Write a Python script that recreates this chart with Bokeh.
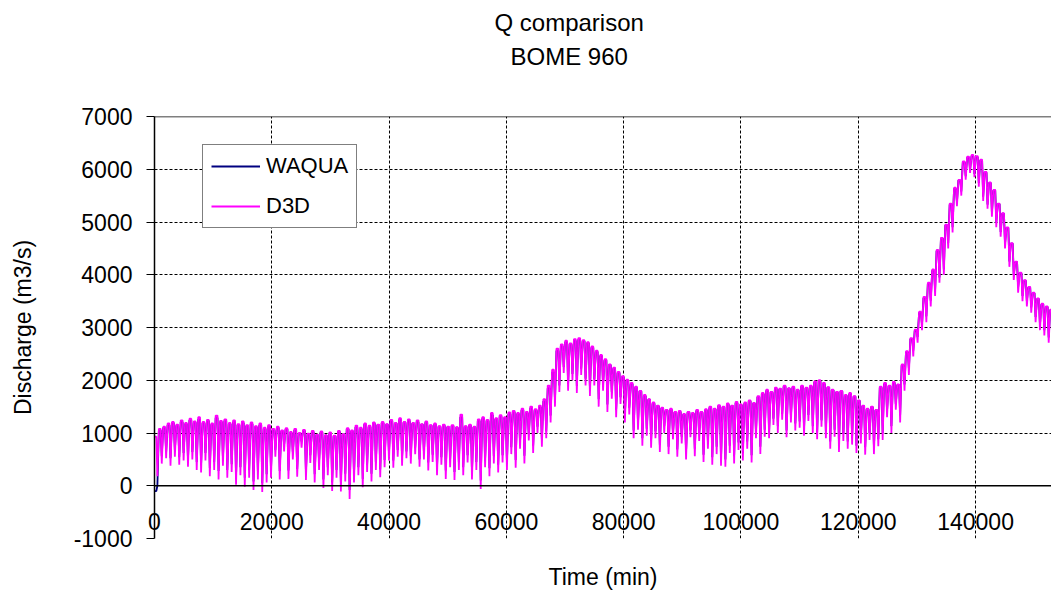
from bokeh.plotting import figure
from bokeh.models import Range1d, SingleIntervalTicker, Span, Legend, LegendItem, Title, NumeralTickFormatter
from bokeh.embed import file_html
from bokeh.resources import INLINE

FONT = "Liberation Sans"

# M2 tidal period (min); one high-flow plateau and one ebb dip per cycle
tidal_period = 745

# D3D discharge (m3/s): peak and trough of each tidal cycle
d3d_high = [
    930, 1080, 1120, 1180, 1210, 1160, 1240, 1190, 1270, 1220,
    1300, 1210, 1250, 1180, 1330, 1230, 1260, 1190, 1240, 1170,
    1220, 1150, 1200, 1130, 1180, 1100, 1150, 1080, 1120, 1050,
    1090, 1020, 1080, 1000, 1060, 990, 1040, 970, 1030, 960,
    1010, 950, 1040, 980, 1090, 1050, 1140, 1100, 1180, 1140,
    1200, 1160, 1210, 1170, 1250, 1190, 1280, 1210, 1260, 1190,
    1240, 1170, 1220, 1150, 1180, 1130, 1160, 1120, 1150, 1110,
    1350, 1130, 1160, 1120, 1260, 1300, 1250, 1380, 1280, 1340,
    1300, 1390, 1420, 1380, 1460, 1400, 1500, 1450, 1520, 1640,
    1900, 2200, 2600, 2680, 2750, 2700, 2780, 2800, 2760, 2720,
    2640, 2560, 2480, 2400, 2300, 2240, 2160, 2080, 2010, 1950,
    1880, 1800, 1720, 1640, 1580, 1520, 1480, 1440, 1460, 1400,
    1420, 1360, 1400, 1380, 1440, 1400, 1450, 1500, 1460, 1530,
    1500, 1560, 1520, 1590, 1540, 1580, 1620, 1570, 1700, 1760,
    1820, 1780, 1860, 1840, 1900, 1850, 1880, 1820, 1900, 1860,
    1900, 1980, 2000, 1950, 1870, 1820, 1780, 1800, 1720, 1760,
    1700, 1620, 1520, 1460, 1500, 1440, 1880, 1950, 1900, 1970,
    1920, 2300, 2550, 2800, 2960, 3300, 3580, 3850, 4100, 4470,
    4700, 4950, 5350, 5650, 5800, 6150, 6240, 6270, 6250, 6180,
    5950, 5750, 5610, 5350, 5170, 4900, 4600, 4250, 4040, 3900,
    3770, 3660, 3550, 3450, 3400, 3340,
]
d3d_low = [
    180, 420, 520, 380, 550, 400, 480, 360, 500, 300,
    250, 480, 180, 300, 120, 380, 150, 260, 20, 200,
    -20, 150, -80, 120, -120, 60, 150, 550, 120, 650,
    130, 500, 170, 720, 110, 430, 60, 300, -40, 200,
    -100, 150, -110, 80, -250, 60, 200, -30, 260, 80,
    300, 160, 350, 480, 340, 550, 380, 520, 420, 600,
    360, 500, 290, 450, 200, 400, 130, 350, 110, 300,
    200, 440, 120, 300, -60, 350, 180, 420, 250, 440,
    300, 600, 340, 700, 420, 860, 620, 1000, 740, 900,
    1200, 1500, 1780, 2140, 1800, 2000, 1760, 2100, 1900, 1700,
    1900, 1500, 1800, 1400, 1650, 1300, 1550, 1200, 1350, 900,
    1060, 760, 950, 720, 900, 640, 1000, 600, 880, 550,
    800, 500, 920, 560, 850, 450, 700, 400, 600, 380,
    360, 620, 420, 680, 480, 700, 440, 900, 600, 930,
    900, 1150, 1000, 1250, 920, 1200, 1050, 1100, 950, 1230,
    1000, 880, 1120, 900, 700, 930, 640, 850, 700, 780,
    620, 800, 590, 870, 600, 750, 870, 1300, 1000, 1440,
    1200, 1800, 2100, 2450, 2710, 2950, 3100, 3400, 3600, 3850,
    4000, 4500, 4800, 5300, 5500, 5800, 5930, 5850, 5670, 5400,
    5250, 5100, 4900, 4720, 4500, 4150, 3900, 3660, 3500, 3400,
    3280, 3100, 2950, 2850, 2710, 2700,
]

# WAQUA discharge (m3/s): peak and trough of each tidal cycle
waqua_high = [
    -100, 1050, 1100, 1150, 1190, 1140, 1210, 1170, 1240, 1200,
    1260, 1190, 1230, 1160, 1290, 1210, 1230, 1170, 1210, 1150,
    1190, 1130, 1170, 1110, 1150, 1080, 1120, 1060, 1100, 1030,
    1070, 1000, 1050, 990, 1040, 970, 1020, 960, 1010, 950,
    990, 940, 1020, 970, 1070, 1030, 1110, 1080, 1160, 1120,
    1180, 1150, 1190, 1160, 1220, 1180, 1250, 1200, 1230, 1180,
    1210, 1160, 1200, 1140, 1160, 1120, 1140, 1110, 1130, 1100,
    1300, 1120, 1140, 1110, 1230, 1270, 1230, 1340, 1260, 1310,
    1280, 1360, 1400, 1360, 1430, 1380, 1470, 1430, 1490, 1600,
    1850, 2150, 2560, 2650, 2720, 2680, 2750, 2770, 2740, 2700,
    2620, 2540, 2460, 2380, 2290, 2220, 2140, 2060, 1990, 1930,
    1860, 1790, 1700, 1630, 1560, 1510, 1470, 1430, 1440, 1390,
    1400, 1350, 1390, 1370, 1420, 1390, 1430, 1480, 1450, 1510,
    1490, 1540, 1510, 1570, 1530, 1560, 1600, 1560, 1680, 1740,
    1800, 1770, 1840, 1830, 1880, 1840, 1860, 1810, 1880, 1850,
    1880, 1960, 1980, 1930, 1860, 1810, 1770, 1790, 1710, 1740,
    1690, 1610, 1510, 1450, 1490, 1430, 1860, 1930, 1890, 1950,
    1910, 2280, 2530, 2780, 2940, 3280, 3560, 3830, 4080, 4450,
    4690, 4940, 5330, 5630, 5790, 6130, 6220, 6250, 6230, 6170,
    5940, 5740, 5600, 5340, 5160, 4890, 4590, 4240, 4030, 3890,
    3760, 3650, 3540, 3440, 3390, 3330,
]
waqua_low = [
    0, 560, 640, 520, 680, 540, 620, 500, 640, 450,
    400, 620, 330, 450, 280, 520, 300, 410, 180, 350,
    150, 300, 80, 280, 50, 220, 300, 680, 280, 780,
    290, 640, 320, 840, 260, 580, 220, 450, 120, 350,
    60, 300, 50, 230, -80, 210, 350, 130, 400, 230,
    450, 310, 490, 620, 480, 680, 520, 650, 560, 720,
    500, 640, 440, 590, 350, 540, 290, 500, 260, 450,
    350, 580, 270, 450, 100, 500, 330, 560, 400, 580,
    450, 730, 490, 830, 570, 980, 760, 1120, 880, 1030,
    1330, 1620, 1900, 2250, 1930, 2120, 1890, 2220, 2030, 1830,
    2020, 1640, 1930, 1540, 1780, 1440, 1680, 1340, 1480, 1050,
    1190, 900, 1080, 860, 1030, 780, 1130, 740, 1010, 690,
    930, 640, 1050, 700, 980, 590, 840, 540, 740, 520,
    500, 760, 560, 820, 620, 840, 580, 1030, 740, 1060,
    1030, 1270, 1130, 1360, 1050, 1320, 1180, 1220, 1080, 1340,
    1130, 1010, 1240, 1030, 840, 1060, 780, 980, 840, 910,
    760, 930, 730, 1000, 740, 880, 1000, 1420, 1130, 1550,
    1330, 1920, 2220, 2560, 2820, 3060, 3210, 3510, 3710, 3950,
    4100, 4600, 4900, 5380, 5580, 5870, 5990, 5910, 5740, 5480,
    5330, 5180, 4990, 4810, 4590, 4250, 4000, 3760, 3600, 3500,
    3380, 3200, 3050, 2950, 2810, 2790,
]

x_ticks = [0, 20000, 40000, 60000, 80000, 100000, 120000, 140000]
y_ticks = [-1000, 0, 1000, 2000, 3000, 4000, 5000, 6000, 7000]
title_main = "Q comparison"
title_sub = "BOME 960"


def tide_path(high, low):
    """Polyline through each cycle: plateau at the peak, then the ebb dip."""
    t, q = [], []
    for i, (h, l) in enumerate(zip(high, low)):
        t0 = i * tidal_period
        t += [t0, t0 + 0.42 * tidal_period, t0 + 0.66 * tidal_period]
        q += [h, h, l]
    return t, q


p = figure(
    width=1051, height=592,
    output_backend="svg", toolbar_location=None,
    x_range=Range1d(0, 152950), y_range=Range1d(y_ticks[0], y_ticks[-1]),
    min_border_left=154, min_border_right=0, min_border_top=116, min_border_bottom=54,
    background_fill_color="white", border_fill_color="white",
)
p.outline_line_color = None

# gridlines
p.xgrid.ticker = SingleIntervalTicker(interval=20000)
p.ygrid.ticker = SingleIntervalTicker(interval=1000)
for g in (p.xgrid, p.ygrid):
    g.grid_line_color = "black"
    g.grid_line_dash = "3 2"
    g.grid_line_width = 1

# y axis
yax = p.yaxis[0]
yax.ticker = y_ticks
yax.axis_label = "Discharge (m3/s)"
yax.axis_line_color = "black"
yax.axis_line_width = 1.5
yax.major_tick_in = 0
yax.major_tick_out = 8
yax.major_tick_line_color = "black"
yax.minor_tick_line_color = None
yax.major_label_standoff = 14
yax.axis_label_standoff = 35

# x axis: labels sit inside the plot area, between 0 and -1000
xax = p.xaxis[0]
xax.ticker = x_ticks
xax.axis_label = "Time (min)"
xax.axis_line_color = None
xax.major_tick_line_color = None
xax.minor_tick_line_color = None
xax.major_tick_in = 0
xax.major_tick_out = 0
xax.major_label_standoff = -26
xax.axis_label_standoff = 31

for ax in (xax, yax):
    ax.formatter = NumeralTickFormatter(format="0")
    ax.major_label_text_font = FONT
    ax.major_label_text_font_size = "23px"
    ax.major_label_text_color = "black"
    ax.axis_label_text_font = FONT
    ax.axis_label_text_font_size = "23px"
    ax.axis_label_text_font_style = "normal"
    ax.axis_label_text_color = "black"

# zero line and top border
p.add_layout(Span(location=0, dimension="width", line_color="black", line_width=1.5))
p.add_layout(Span(location=y_ticks[-1], dimension="width", line_color="black", line_width=1.5))

tw, qw = tide_path(waqua_high, waqua_low)
td, qd = tide_path(d3d_high, d3d_low)
r_w = p.line(tw, qw, line_color="#000080", line_width=1.8, line_join="bevel")
r_d = p.line(td, qd, line_color="#FF00FF", line_width=1.8, line_join="bevel")

legend = Legend(
    items=[LegendItem(label="WAQUA", renderers=[r_w]), LegendItem(label="D3D", renderers=[r_d])],
    location=(48, 310),
    label_text_font=FONT, label_text_font_size="22px", label_text_color="black",
    glyph_width=49, glyph_height=26, label_height=26, label_standoff=6,
    padding=8, spacing=14, margin=0,
    border_line_color="black", border_line_width=1,
    background_fill_color="white", background_fill_alpha=1,
)
p.add_layout(legend, "center")

# titles stack outward from the plot area: an empty gap row, then the sub and main title
title_style = dict(align="left", text_font=FONT, text_font_size="24px",
                   text_font_style="normal", text_color="black")
p.add_layout(Title(text=" ", standoff=17, **title_style), "above")
p.add_layout(Title(text=title_sub, offset=356, standoff=2, **title_style), "above")
p.add_layout(Title(text=title_main, offset=340, standoff=8, **title_style), "above")

open("out.html", "w").write(file_html(p, INLINE))
